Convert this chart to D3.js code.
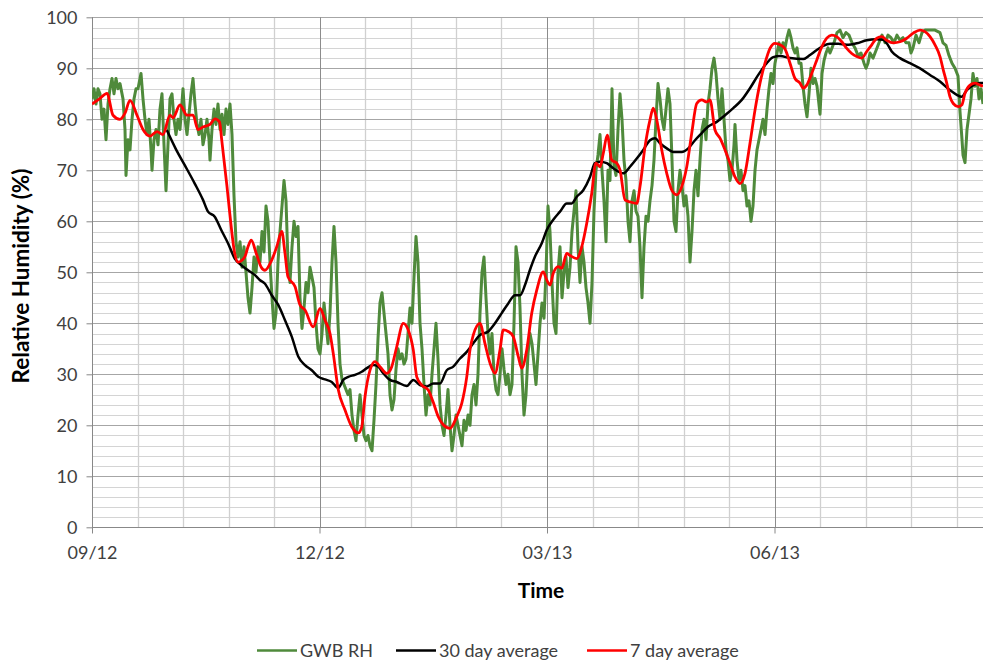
<!DOCTYPE html>
<html>
<head>
<meta charset="utf-8">
<script src="https://cdn.jsdelivr.net/npm/d3@7"></script>
<style>
  html, body { margin: 0; padding: 0; background: #fff; }
  svg { display: block; font-family: Lato, "Open Sans", "Liberation Sans", sans-serif; }
</style>
</head>
<body>
<svg id="chart" width="983" height="660"></svg>
<script>
// ---------- data (x = days since 1 Sep 2012, y = relative humidity %) ----------
const xTickDays = [0, 91, 182, 273];
const xTickLabels = ["09/12", "12/12", "03/13", "06/13"];
const yTickValues = [0, 10, 20, 30, 40, 50, 60, 70, 80, 90, 100];
const seriesNames = ["GWB RH", "30 day average", "7 day average"];

const rhDays = [0,0.8,1.6,2.4,3.2,4,4.8,5.6,6.4,7.2,8,8.8,9.6,10.4,11.2,12.4,13.2,13.6,14.4,15.2,16,16.8,17.6,18.4,19.6,20.4,21.2,22,22.8,23.6,24,24.8,25.6,26.4,27.2,28,28.8,29.6,30.4,31.2,32,32.8,33.6,34.4,35.2,36.4,37.2,38,38.8,39.6,40.4,41.2,42,42.8,43.6,44.4,45.2,46,46.8,47.2,48,48.8,49.6,50.4,51.2,52,52.8,53.6,54.4,55.2,56,56.8,57.6,58.4,59.2,60,60.8,61.6,62.4,63.2,64,64.8,65.6,66.4,67.2,68,68.8,69.6,70.4,71.2,72,72.8,73.6,74.4,75.2,76,76.8,77.6,78.4,79.2,80,80.8,81.6,82.4,83.2,84,84.8,85.6,86.4,87.2,88,88.8,89.6,90.4,91.2,92,92.8,93.6,94.4,95.2,96,96.8,97.6,98.4,99.2,100,100.8,101.6,102.4,103.2,104,104.8,105.6,106.4,107.2,108,108.8,109.6,110.4,111.2,112,112.8,113.6,114.4,115.2,116,116.8,117.6,118.4,119.2,120,120.8,121.6,122.4,123.2,124,124.8,125.6,126.4,127.2,128,128.8,129.6,130.4,131.2,132,132.8,133.6,134.4,135.2,136,136.8,137.6,138.4,139.2,140,140.8,141.6,142.4,143.2,144,144.8,145.6,146.4,147.2,148,148.8,149.6,150.4,151.2,152,152.8,153.6,154.4,155.2,156,156.8,157.6,158.4,159.2,160,160.8,161.6,162.4,163.2,164,164.8,165.6,166.4,167.2,168,168.8,169.6,170.4,171.2,172,172.8,173.6,174.4,175.2,176,176.8,177.6,178.4,179.2,180,180.8,181.6,182.4,183.2,184,184.8,185.6,186.4,187.2,188,188.8,189.6,190.4,191.2,192,192.8,193.6,194.4,195.2,196,196.8,197.6,198.4,199.2,200,200.8,201.6,202.4,203.2,204,204.8,205.6,206.4,207.2,208,208.8,209.6,210.4,211.2,212,212.8,213.6,214.4,215.2,216,216.8,217.6,218.4,219.2,220,220.8,221.6,222.4,223.2,224,224.8,225.6,226.4,227.2,228,228.8,229.6,230.4,231.2,232,232.8,233.6,234.4,235.2,236,236.8,237.6,238.4,239.2,240,240.8,241.6,242.4,243.2,244,244.8,245.6,246.4,247.2,248,248.8,249.6,250.4,251.2,252,252.8,253.6,254.4,255.2,256,256.8,257.2,258,258.8,259.6,260.4,261.2,262,262.8,263.6,264.4,265.2,266,266.8,267.6,268.4,269.2,270,270.8,271.6,272.4,273.2,274,274.8,275.6,276.4,277.2,278,278.8,279.6,280.4,281.2,282,282.8,283.6,284.4,285.2,286,286.8,287.6,288.4,289.2,290,291.2,292,292.8,293.6,294.4,295.2,296,296.8,298,299.2,300.4,301.6,302.8,304,305.2,306.4,307.6,308.8,309.6,310.4,311.2,312.4,313.6,314.8,316,317.2,318.4,319.6,320.8,322,323.2,324.4,325.6,326.8,327.6,328.4,329.6,330.8,332,333.2,335.2,337.2,339.2,340.4,341.6,342.8,344,345.2,346.4,347.2,348,348.4,349.2,350,350.8,351.6,352.4,353.2,354,354.8,355.6,356.4];
const rhValues = [84,86,83,86,85,80,82,76,83,86,88,85,88,86,87,84,78,69,76,74,80,84,86,86,89,84,80,77,80,74,70,76,78,75,82,85,75,66,75,84,85,80,77,80,78,86,80,77,81,85,88,83,79,77,80,75,77,80,76,72,78,82,79,83,78,81,77,82,79,83,77,65,56,53,56,51,55,50,45,42,47,53,50,55,52,58,54,63,60,52,45,39,42,52,58,63,68,64,52,48,55,60,57,59,45,39,43,48,46,51,49,47,40,35,34,38,44,40,36,42,52,59,52,40,32,29,28,27,26,27,22,19,17,22,26,22,18,17,18,16,15,21,28,37,44,46,42,38,34,26,23,25,31,35,33,34,32,33,38,43,40,49,57,52,40,35,28,22,26,24,30,35,40,33,24,20,18,22,27,20,15,18,22,20,18,16,21,19,22,20,26,28,24,30,42,50,53,45,38,34,38,30,27,26,30,35,31,28,30,26,28,40,55,52,43,30,22,26,34,38,36,32,28,34,40,44,41,50,63,58,48,40,38,50,55,45,50,53,47,51,58,62,66,55,48,55,52,47,44,40,48,62,70,73,77,70,64,56,70,68,86,71,69,78,85,80,72,68,60,56,64,66,62,61,55,45,55,61,60,64,67,72,80,87,84,80,78,82,86,83,72,60,58,66,70,67,63,65,61,52,58,66,70,65,72,78,80,76,83,86,90,92,89,84,80,86,80,74,72,68,70,75,79,72,68,70,66,67,63,64,60,63,70,74,76,78,80,77,82,86,89,87,91,93,95,93,95,94,96,97.5,96,94,93,94,91,91,86.5,83,80.5,85,90,87,88,86.5,81,89,91.5,93,94,93,94,95,97,97.5,96,97,96.5,95,94,92.5,93,91,90,91,93,92,93.5,95,96.5,95,96.5,96,95,96.5,95.5,96,95,95,93,94,96.5,95,97,97.5,97.5,97.5,97,95,94.5,92.5,91,90,88.5,81.5,76,73,71.5,78,81,84,89,86.5,88,84,86,83];

const avg30Days = [29.9,33.7,37.1,41.1,44.4,46.4,49.1,51.7,54.4,57.1,59.7,62.4,65.1,67.1,69.1,71.9,74.5,77.2,79.9,82.5,85.2,87.9,90.5,93.2,95.9,98.5,100.5,102.5,105.2,107.9,109.9,112.5,114.5,116.5,119.2,121.9,125.9,128.5,131.2,133.9,136.5,139.2,141.9,144.5,147.2,149.9,152.5,155.2,158.5,161.2,163.9,166.5,169.2,171.2,173.2,175.2,177.2,179.9,181.9,184.5,187.2,189.9,191.9,193.9,196.5,199.2,201.2,203.2,205.9,208.5,212.5,215.2,217.9,220.5,223.2,225.2,227.2,229.9,232.5,235.9,238.5,241.2,243.9,246.5,249.9,253.2,256.5,259.9,263.2,266.5,269.9,272.5,275.2,279.2,284.5,287.2,289.9,292.5,295.2,298.5,301.9,305.9,309.9,313.9,316.5,317.9,319.9,323.2,327.2,331.2,335.2,339.2,343.2,345.9,347.9,349.9,352.5,355.2,356.4];
const avg30Values = [77.9,74,71,67.4,64.2,61.9,60.9,58.3,55.7,52.7,51.4,50.4,49.5,48.5,47.8,45.5,43.6,40.6,37.4,33.5,31.8,30.8,29.5,29,28.5,27.3,28.9,29.5,29.9,30.5,31.2,31.8,31.5,30.2,28.9,28.5,27.7,28.9,27.9,27.6,28.2,28.2,30.8,31.5,33.1,34.4,36.1,37.7,38.4,40,42,43.9,45.5,45.5,47.5,50.5,53.1,55.7,58.3,60.3,61.9,63.5,63.5,64.8,66.1,68.7,71.4,71.7,71.4,70.4,69.4,70.7,72.3,74,75.9,76.3,75.3,74.3,73.6,73.6,74.3,75.9,77.3,78.6,79.5,80.8,82.2,83.8,86.1,88.7,91,92.2,92.4,92,91.8,92.6,93.6,94.4,94.8,94.8,94.6,94.9,95.5,95.7,95.6,94.9,93.3,92,91,90,88.7,87.4,85.7,84.8,84.4,85.7,86.7,87.1,87.1];

const avg7Days = [0,3,6,8.4,11.2,13.2,15.2,18,20.4,23.2,26,28.4,31.2,32.4,35.2,38,40.4,42.4,44.4,47.2,49.2,51,51.9,53.1,54,55.1,57.1,58.4,61.1,62.4,63.7,65.7,67.7,69.2,71.9,73.9,75.9,77.2,78.4,81.2,83.2,85.2,88.5,91.2,93.2,95.2,96.5,98.5,101.2,103.9,106.5,107.9,109.2,111.2,113.2,115.2,117.9,119.9,121.9,124.5,126.5,128.5,129.9,131.9,134.5,136.5,138.5,140.5,143.2,145.9,147.9,149.9,151.2,152.5,155.2,157.2,159.2,161.2,163.2,164.5,166.5,168.5,170.5,171.9,173.9,175.9,177.9,180.5,181.9,183.2,184.5,186.5,187.9,189.9,191.2,193.9,195.9,197.9,199.9,201.5,203.2,204.5,206.1,207.9,209.9,211.2,213.2,215.2,217.9,219.2,221.2,223.2,224.5,225.9,227.9,229.9,231.9,233.9,235.9,237.9,239.9,241.9,243.9,245.9,247.2,249.2,251.2,253.2,255.2,257.2,259.2,261.2,263.2,265.2,267.2,269.2,271.2,273.2,275.2,277.2,279.2,281.2,283.2,284.5,285.9,287.9,289.9,291.9,293.9,295.9,297.9,299.9,301.9,303.9,305.9,307.9,309.9,311.9,313.9,315.9,317.9,320.5,323.2,325.9,328.5,331.2,333.2,335.2,337.2,339.2,340.5,341.9,343.2,344.5,346.5,347.9,349.2,351.2,353.2,355.2,356.4];
const avg7Values = [83,84,85.1,80.8,80,81.2,83.7,80.8,78,76.7,77.6,77,80.8,80.3,82.8,80.8,80.8,78,78.5,79,80.1,79.5,75.9,70.7,66.8,61.6,53.7,52,53,55,56.3,53.7,51,50.4,52.4,55,58,53.7,49.1,47.2,43.6,42.6,39.3,42.9,40.6,38,34.1,27,23,19.7,18.5,19.7,25.6,30.8,32.5,31.5,30.2,31.5,35.4,40,38.7,34.8,29.5,27.9,26.9,24.5,21.7,20.1,19.4,21.7,24.3,29.5,34.8,37.7,40,36,32.2,30.2,34.8,38.7,38.4,37.4,33.5,31.2,34.8,42,46.5,50.1,48.5,47.5,49.8,51.1,50.8,53.7,53.3,52.7,55,59.6,65.5,71.4,70.7,73.3,76.9,72,71.4,70.1,64.2,63.8,63.5,66.8,74.6,79.9,82.2,79.9,74,69.4,66.1,65.2,66.8,70.7,77.3,83.1,83.8,83.4,83.8,77.9,76.3,74,71.4,68.7,67.4,69.4,75.3,81.8,87.1,91,93.9,94.9,94.6,93.8,91,88,87.1,86.1,86.7,89,91.6,94.2,95.9,96.5,96.2,95.2,93.9,92.9,92.3,92,93.3,94.6,95.9,96.2,95.5,95,95.2,95.9,96.9,97.5,97.2,96.2,94.6,92.3,89.7,87.1,84.4,83.1,82.5,82.8,85.1,86.7,87.1,86.7,86.5];

// ---------- layout ----------
const svg = d3.select("#chart");
const W = 983, H = 660;
const plot = { left: 92, right: 983, top: 17.3, bottom: 527.3 };
const lastDay = 356.4;
const font = "Lato, sans-serif";

const x = d3.scaleLinear().domain([0, lastDay]).range([plot.left, plot.right]);
const y = d3.scaleLinear().domain([0, 100]).range([plot.bottom, plot.top]);

svg.append("rect").attr("width", W).attr("height", H).attr("fill", "#fff");

// grid
const minorY = d3.range(0, 101, 2).filter(v => v % 10 !== 0);
const minorXStep = 91 / 5;
const minorX = d3.range(0, lastDay + 0.01, minorXStep).filter((d, i) => i % 5 !== 0);

const grid = svg.append("g");
grid.selectAll("line.hmin").data(minorY).join("line")
  .attr("x1", plot.left).attr("x2", plot.right)
  .attr("y1", d => Math.round(y(d)) + 0.5).attr("y2", d => Math.round(y(d)) + 0.5)
  .attr("stroke", "#d4d4d4").attr("stroke-width", 1);
grid.selectAll("line.vmin").data(minorX).join("line")
  .attr("y1", plot.top).attr("y2", plot.bottom)
  .attr("x1", d => Math.round(x(d)) + 0.5).attr("x2", d => Math.round(x(d)) + 0.5)
  .attr("stroke", "#d0d0d0").attr("stroke-width", 1.3);
grid.selectAll("line.hmaj").data(yTickValues.filter(v => v > 0)).join("line")
  .attr("x1", plot.left).attr("x2", plot.right)
  .attr("y1", d => Math.round(y(d)) + 0.5).attr("y2", d => Math.round(y(d)) + 0.5)
  .attr("stroke", "#a6a6a6").attr("stroke-width", 1);
grid.selectAll("line.vmaj").data(xTickDays.filter(d => d > 0)).join("line")
  .attr("y1", plot.top).attr("y2", plot.bottom)
  .attr("x1", d => Math.round(x(d)) + 0.5).attr("x2", d => Math.round(x(d)) + 0.5)
  .attr("stroke", "#8c8c8c").attr("stroke-width", 1);

// axes
const axisColor = "#888";
const yAxis = d3.axisLeft(y).tickValues(yTickValues).tickSize(6).tickPadding(9).tickFormat(d3.format("d"));
const gy = svg.append("g").attr("transform", `translate(${plot.left + 0.5},0)`).call(yAxis);
gy.select(".domain").attr("stroke", axisColor).attr("d", `M0,${plot.top}V${plot.bottom}`);
gy.selectAll(".tick line").attr("stroke", axisColor);
gy.selectAll(".tick text").attr("fill", "#404040").style("font-size", "18px").style("font-family", font);

const xAxis = d3.axisBottom(x).tickValues(xTickDays).tickSize(6).tickPadding(13)
  .tickFormat((d, i) => xTickLabels[i]);
const gx = svg.append("g").attr("transform", `translate(0,${Math.round(plot.bottom) + 0.5})`).call(xAxis);
gx.select(".domain").attr("stroke", axisColor).attr("d", `M${plot.left},0H${plot.right}`);
gx.selectAll(".tick line").attr("stroke", axisColor);
gx.selectAll(".tick text").attr("fill", "#404040").style("font-size", "18px").style("font-family", font);

// series
const pairs = (ds, vs) => ds.map((d, i) => [d, vs[i]]);
const lineLinear = d3.line().x(d => x(d[0])).y(d => y(d[1]));
const lineSmooth = d3.line().x(d => x(d[0])).y(d => y(d[1])).curve(d3.curveMonotoneX);

svg.append("clipPath").attr("id", "clip").append("rect")
  .attr("x", plot.left).attr("y", 0).attr("width", plot.right - plot.left).attr("height", plot.bottom);

const series = svg.append("g").attr("clip-path", "url(#clip)");
const colors = ["#4f8a3b", "#000000", "#ff0000"];
series.append("path").datum(pairs(rhDays, rhValues))
  .attr("d", lineLinear).attr("fill", "none").attr("stroke", colors[0])
  .attr("stroke-width", 3).attr("stroke-linejoin", "round");
series.append("path").datum(pairs(avg30Days, avg30Values))
  .attr("d", lineSmooth).attr("fill", "none").attr("stroke", colors[1])
  .attr("stroke-width", 2.5).attr("stroke-linejoin", "round");
series.append("path").datum(pairs(avg7Days, avg7Values))
  .attr("d", lineSmooth).attr("fill", "none").attr("stroke", colors[2])
  .attr("stroke-width", 2.8).attr("stroke-linejoin", "round");

// axis titles
svg.append("text").attr("x", 541).attr("y", 598).attr("text-anchor", "middle")
  .style("font-size", "21px").style("font-weight", "bold").style("font-family", font)
  .attr("fill", "#000").text("Time");
svg.append("text").attr("transform", "translate(29,276) rotate(-90)").attr("text-anchor", "middle")
  .style("font-size", "22.5px").style("font-weight", "bold").style("font-family", font)
  .attr("fill", "#000").text("Relative Humidity (%)");

// legend
const legendX = [257, 396, 587];
const leg = svg.append("g");
seriesNames.forEach((name, i) => {
  leg.append("line").attr("x1", legendX[i]).attr("x2", legendX[i] + 40)
    .attr("y1", 650.5).attr("y2", 650.5).attr("stroke", colors[i]).attr("stroke-width", 2.5);
  leg.append("text").attr("x", legendX[i] + 43).attr("y", 657)
    .style("font-size", "18px").style("font-family", font).attr("fill", "#404040").text(name);
});
</script>
</body>
</html>
